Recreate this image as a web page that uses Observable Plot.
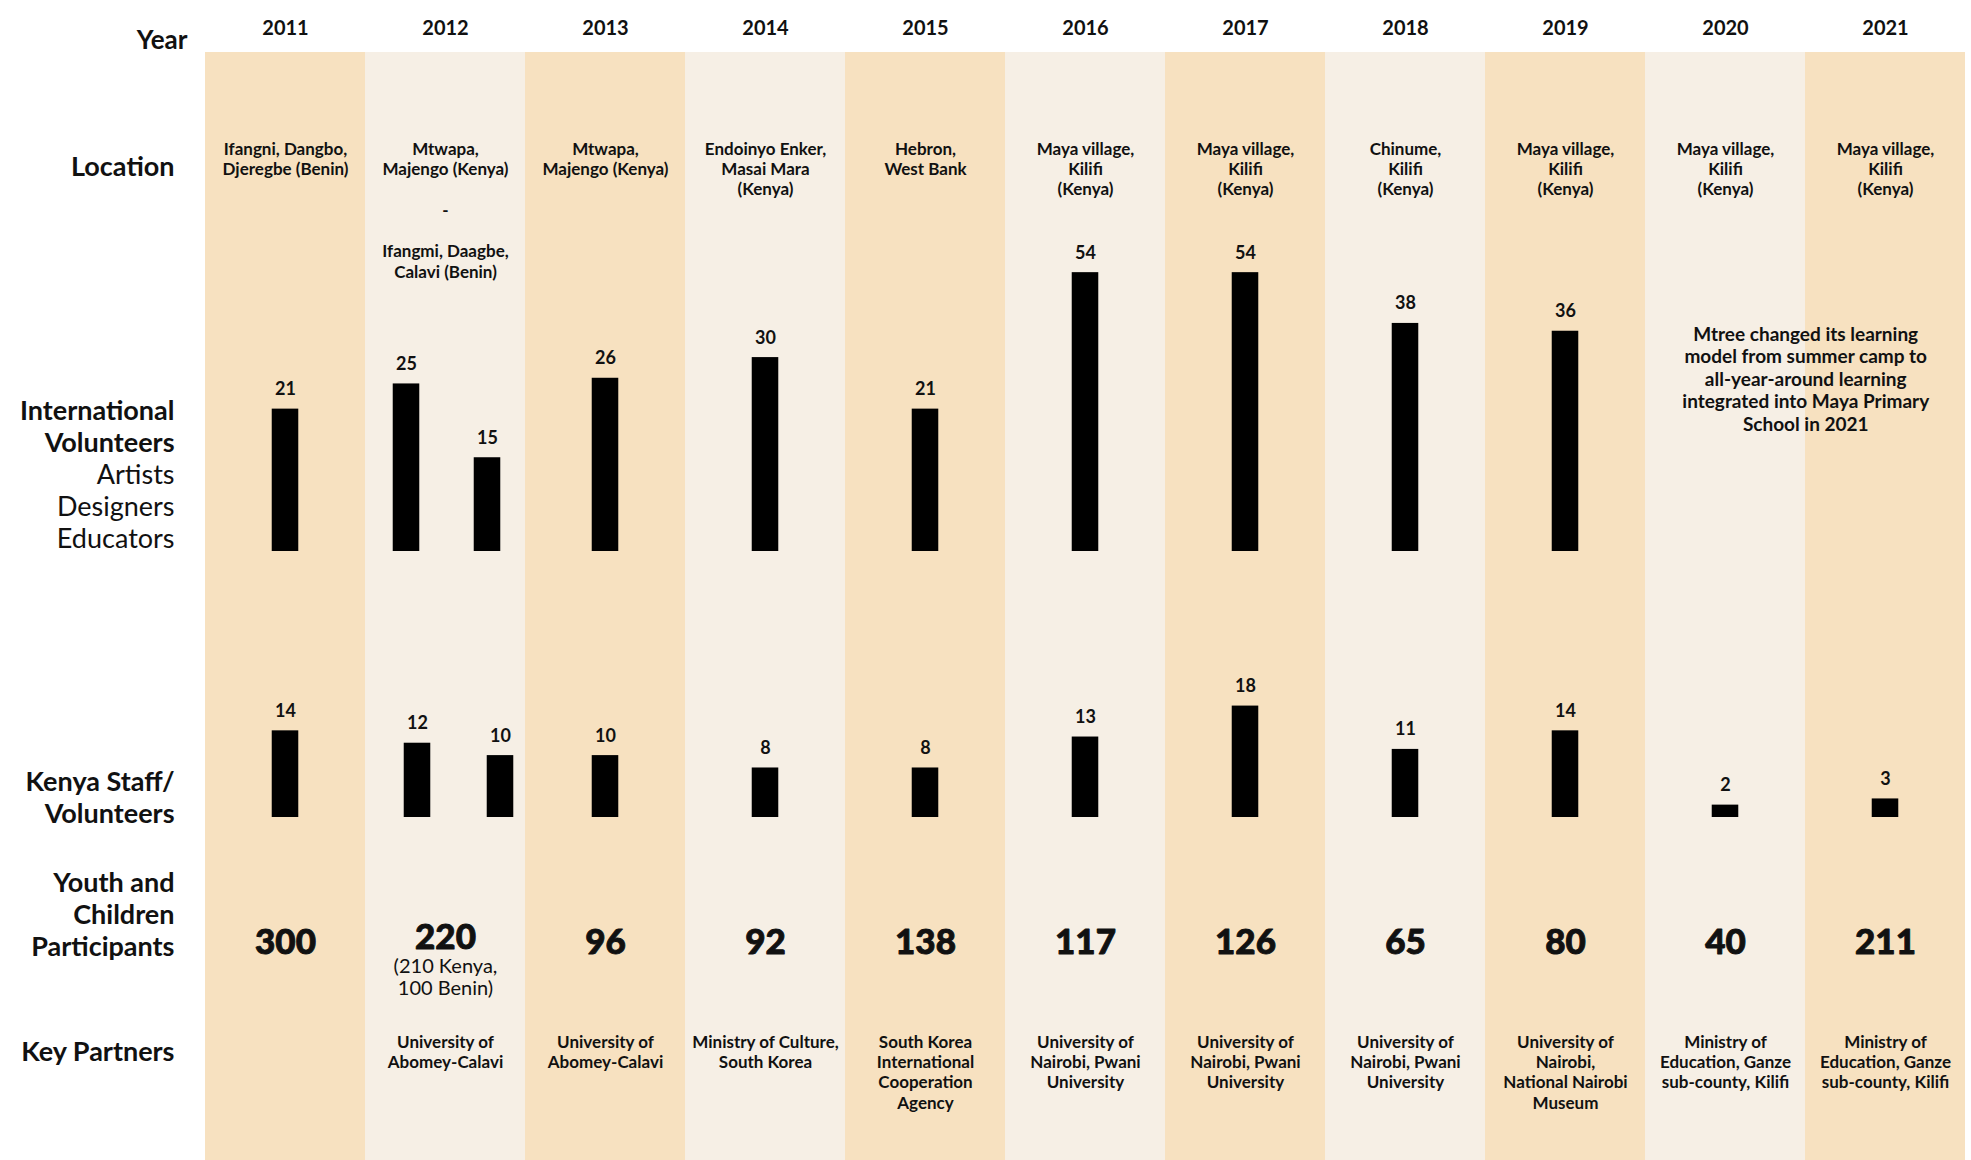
<!DOCTYPE html>
<html>
<head>
<meta charset="utf-8">
<script src="https://cdn.jsdelivr.net/npm/d3@7"></script>
<script src="https://cdn.jsdelivr.net/npm/@observablehq/plot@0.6"></script>
<style>
  html, body { margin: 0; padding: 0; background: #fff; }
  #chart { position: relative; width: 1971px; height: 1160px; overflow: hidden; }
  #chart svg { position: absolute; left: 0; }
</style>
</head>
<body>
<div id="chart"></div>
<script>
// ---------------- DATA ----------------
const years = ["2011","2012","2013","2014","2015","2016","2017","2018","2019","2020","2021"];

const locations = [
  "Ifangni, Dangbo,\nDjeregbe (Benin)",
  "Mtwapa,\nMajengo (Kenya)\n\n-\n\nIfangmi, Daagbe,\nCalavi (Benin)",
  "Mtwapa,\nMajengo (Kenya)",
  "Endoinyo Enker,\nMasai Mara\n(Kenya)",
  "Hebron,\nWest Bank",
  "Maya village,\nKilifi\n(Kenya)",
  "Maya village,\nKilifi\n(Kenya)",
  "Chinume,\nKilifi\n(Kenya)",
  "Maya village,\nKilifi\n(Kenya)",
  "Maya village,\nKilifi\n(Kenya)",
  "Maya village,\nKilifi\n(Kenya)"
];

// International volunteers (second site only in 2012)
const intlVolunteers       = [21, 25, 26, 30, 21, 54, 54, 38, 36, null, null];
const intlVolunteersSecond = [null, 15, null, null, null, null, null, null, null, null, null];

// Kenya staff / volunteers (second site only in 2012)
const kenyaStaff       = [14, 12, 10, 8, 8, 13, 18, 11, 14, 2, 3];
const kenyaStaffSecond = [null, 10, null, null, null, null, null, null, null, null, null];

const participants = [300, 220, 96, 92, 138, 117, 126, 65, 80, 40, 211];
const participantNotes = ["", "(210 Kenya,\n100 Benin)", "", "", "", "", "", "", "", "", ""];

const partners = [
  "",
  "University of\nAbomey-Calavi",
  "University of\nAbomey-Calavi",
  "Ministry of Culture,\nSouth Korea",
  "South Korea\nInternational\nCooperation\nAgency",
  "University of\nNairobi, Pwani\nUniversity",
  "University of\nNairobi, Pwani\nUniversity",
  "University of\nNairobi, Pwani\nUniversity",
  "University of\nNairobi,\nNational Nairobi\nMuseum",
  "Ministry of\nEducation, Ganze\nsub-county, Kilifi",
  "Ministry of\nEducation, Ganze\nsub-county, Kilifi"
];

const annotationText = "Mtree changed its learning\nmodel from summer camp to\nall-year-around learning\nintegrated into Maya Primary\nSchool in 2021";
const annotationYear = "2020";

const headerLabel = "Year";
const rowLabels = {
  location: "Location",
  intlBold: "International\nVolunteers",
  intlRegular: "Artists\nDesigners\nEducators",
  kenya: "Kenya Staff/\nVolunteers",
  youth: "Youth and\nChildren\nParticipants",
  partners: "Key Partners"
};

// ---------------- LAYOUT / STYLE ----------------
const W = 1971, H = 1160;
const mL = 202, mR = 4, bodyTop = 52;
const bw = (W - mL - mR) / years.length;
const barW = 27;
const inset = (bw - barW) / 2;
const bandDark = "#F7E1C0", bandLight = "#F6EFE5";
const ink = "#111";
const font = "Lato, 'Noto Sans', sans-serif";
const idx = d3.range(years.length);

const small = {fontSize: 17, fontWeight: 700, lineHeight: 1.206};
function topDy(baseline, fs, lh) { return baseline - bodyTop - 0.71 * lh * fs; }

const chart = document.getElementById("chart");

// ---------------- MAIN (bands + texts) ----------------
const labelSize = 27, labelLH = 32 / 27;
function rowLabel(text, baseline, weight) {
  return Plot.text([text], {
    text: d => d, frameAnchor: "top-left", dx: -28, dy: baseline - bodyTop,
    textAnchor: "end", lineAnchor: "bottom", fontSize: labelSize, fontWeight: weight,
    lineHeight: labelLH, fill: ink
  });
}

const bigNum = {frameAnchor: "top", lineAnchor: "bottom", fontSize: 35, fontWeight: 900,
  fill: ink, stroke: ink, strokeWidth: 0.9};

const main = Plot.plot({
  width: W, height: H,
  marginTop: bodyTop, marginBottom: 0, marginLeft: mL, marginRight: mR,
  x: {type: "band", domain: years, padding: 0, axis: null},
  style: {fontFamily: font, background: "white"},
  marks: [
    Plot.cell(idx, {x: i => years[i], fill: i => (i % 2 ? bandLight : bandDark)}),
    // year header
    Plot.text(idx, {x: i => years[i], text: i => years[i], frameAnchor: "top", dy: -18,
      lineAnchor: "bottom", fontSize: 20, fontWeight: 700, fill: ink}),
    Plot.text([headerLabel], {text: d => d, frameAnchor: "top-left", dx: -15, dy: -4,
      textAnchor: "end", lineAnchor: "bottom", fontSize: 26, fontWeight: 700, fill: ink}),
    // row labels
    rowLabel(rowLabels.location, 175, 700),
    rowLabel(rowLabels.intlBold, 451, 700),
    rowLabel(rowLabels.intlRegular, 547, 400),
    rowLabel(rowLabels.kenya, 822, 700),
    rowLabel(rowLabels.youth, 955, 700),
    rowLabel(rowLabels.partners, 1060, 700),
    // locations
    Plot.text(idx, {x: i => years[i], text: i => locations[i], frameAnchor: "top",
      dy: topDy(154, small.fontSize, small.lineHeight), lineAnchor: "top", ...small, fill: ink}),
    // annotation
    Plot.text([annotationText], {x: () => annotationYear, text: d => d, dx: bw / 2, frameAnchor: "top",
      dy: topDy(340.5, 19, 22.4 / 19), lineAnchor: "top", fontSize: 19, fontWeight: 700,
      lineHeight: 22.4 / 19, fill: ink}),
    // participants
    Plot.text(idx.filter(i => !participantNotes[i]), {x: i => years[i], text: i => String(participants[i]),
      dy: 953 - bodyTop, ...bigNum}),
    Plot.text(idx.filter(i => participantNotes[i]), {x: i => years[i], text: i => String(participants[i]),
      dy: 948 - bodyTop, ...bigNum}),
    Plot.text(idx.filter(i => participantNotes[i]), {x: i => years[i], text: i => participantNotes[i],
      frameAnchor: "top", dy: topDy(972, 20, 23 / 20), lineAnchor: "top", fontSize: 20, fontWeight: 400,
      lineHeight: 23 / 20, fill: ink}),
    // partners
    Plot.text(idx.filter(i => partners[i]), {x: i => years[i], text: i => partners[i], frameAnchor: "top",
      dy: topDy(1047, small.fontSize, small.lineHeight), lineAnchor: "top", ...small, fill: ink})
  ]
});
main.style.top = "0px";
chart.appendChild(main);

// ---------------- BAR ROWS ----------------
function barRow({values, second, type, base, pxPerUnit, baseline, svgTop, dxFirst, dxSecond}) {
  const rows = idx.map(i => ({year: years[i], v: values[i], s: second[i]}));
  const single = rows.filter(d => d.v != null && d.s == null);
  const pair = rows.filter(d => d.v != null && d.s != null);
  const vmax = d3.max([...values, ...second].filter(v => v != null));
  const h = baseline - svgTop;
  const span = type === "log" ? Math.log(vmax) - Math.log(base) : vmax - base;
  const marginTop = h - span * pxPerUnit;
  const lab = {lineAnchor: "bottom", dy: -14, fontSize: 18, fontWeight: 700, fill: ink};
  const bar = {fill: "#000", insetLeft: inset, insetRight: inset};
  const p = Plot.plot({
    width: W, height: h, marginTop, marginBottom: 0, marginLeft: mL, marginRight: mR,
    x: {type: "band", domain: years, padding: 0, axis: null},
    y: {type, domain: [base, vmax], axis: null},
    style: {fontFamily: font, background: "transparent", overflow: "visible"},
    marks: [
      Plot.barY(single, {x: "year", y1: () => base, y2: "v", ...bar}),
      Plot.barY(pair, {x: "year", y1: () => base, y2: "v", dx: dxFirst, ...bar}),
      Plot.barY(pair, {x: "year", y1: () => base, y2: "s", dx: dxSecond, ...bar}),
      Plot.text(single, {x: "year", y: "v", text: d => String(d.v), ...lab}),
      Plot.text(pair, {x: "year", y: "v", text: d => String(d.v), dx: dxFirst, ...lab}),
      Plot.text(pair, {x: "year", y: "s", text: d => String(d.s), dx: dxSecond, ...lab})
    ]
  });
  p.style.top = svgTop + "px";
  chart.appendChild(p);
}

// International volunteer bars follow a log-like height scale in the original
barRow({values: intlVolunteers, second: intlVolunteersSecond, type: "log", base: 7.84, pxPerUnit: 144.5,
  baseline: 551, svgTop: 200, dxFirst: -39, dxSecond: 42});
barRow({values: kenyaStaff, second: kenyaStaffSecond, type: "linear", base: 0, pxPerUnit: 6.19,
  baseline: 817, svgTop: 650, dxFirst: -28, dxSecond: 55});
</script>
</body>
</html>
